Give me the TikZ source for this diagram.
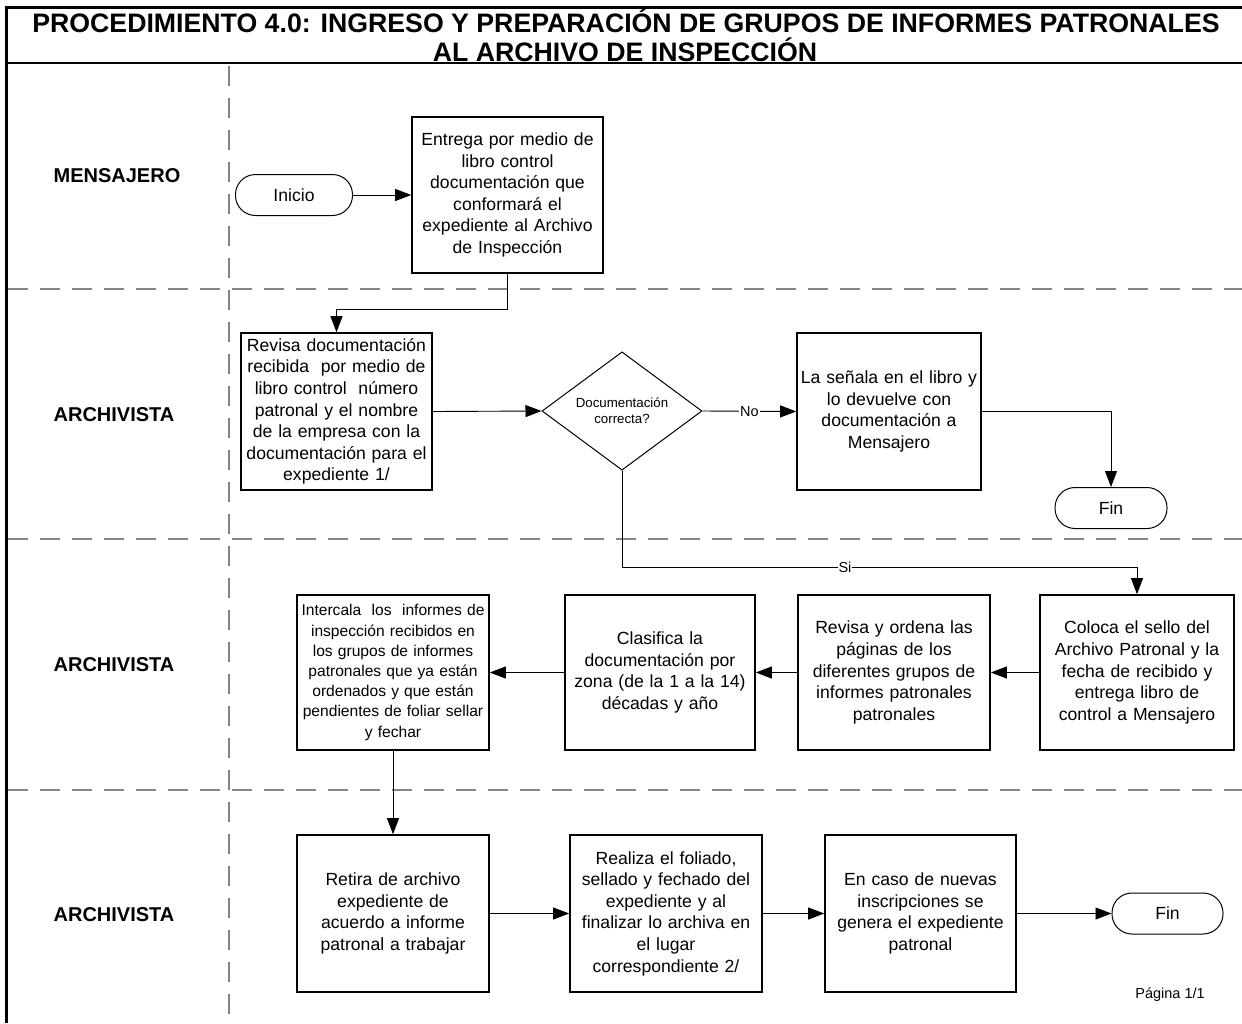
\documentclass[tikz,border=0pt]{standalone}
\usepackage{fontspec}
\setmainfont{Liberation Sans}
\usetikzlibrary{arrows.meta,shapes.geometric,calc}
\begin{document}
\begin{tikzpicture}[x=1pt,y=-1pt,
  every node/.style={font=\fontsize{17.6}{21.6}\selectfont},
  proc/.style={draw, line width=1.6pt, align=center, inner sep=0pt, rectangle},
  term/.style={draw, line width=1pt, rectangle, rounded corners=20pt, minimum width=#1, minimum height=41pt, inner sep=0pt},
  dec/.style={draw, diamond, line width=1pt, inner sep=0pt, align=center, minimum width=160pt, minimum height=94pt, font=\fontsize{13.3}{16}\selectfont},
  arr/.style={-{Triangle[length=16pt,width=12pt]}, line width=0.9pt},
  lane/.style={draw=black!48, line width=2.6pt, dash pattern=on 20pt off 12pt},
  lab/.style={font=\bfseries\fontsize{20}{24}\selectfont},
  ttl/.style={font=\bfseries\fontsize{26.7}{30}\selectfont, anchor=base, inner sep=0pt},
  cond/.style={fill=white, inner sep=1pt, font=\fontsize{14.5}{16}\selectfont}
]
\useasboundingbox (0,0) rectangle (1242,1023);

% frame
\draw[line width=3pt] (4.5,7) -- (1242,7);
\draw[line width=3pt] (6,5.5) -- (6,1023);
\draw[line width=2pt] (6,63) -- (1242,63);

% title
\node[ttl] (t1) at (626,32) {PROCEDIMIENTO 4.0: INGRESO Y PREPARACIÓN DE GRUPOS DE INFORMES PATRONALES};
\node[ttl] (t2) at (625,61.5) {AL ARCHIVO DE INSPECCIÓN};

% lanes
\draw[lane] (229,66) -- (229,1023);
\draw[lane] (7.5,289) -- (1242,289);
\draw[lane] (7.5,539) -- (1242,539);
\draw[lane] (7.5,790) -- (1242,790);

\node[lab] (l1) at (117,176) {MENSAJERO};
\node[lab] (l2) at (114,415) {ARCHIVISTA};
\node[lab] (l3) at (114,665) {ARCHIVISTA};
\node[lab] (l4) at (114,915) {ARCHIVISTA};

% nodes
\node[term=117pt] (ini) at (294,195) {Inicio};
\node[proc, minimum width=191pt, minimum height=156pt, text width=187pt] (b1) at (507.5,195)
  {Entrega por medio de\\ libro control\\ documentación que\\ conformará el\\ expediente al Archivo\\ de Inspección};
\node[proc, minimum width=191pt, minimum height=157pt, text width=187pt] (b2) at (336.5,411.5)
  {Revisa documentación\\ recibida \ por medio de\\ libro control \ número\\ patronal y el nombre\\ de la empresa con la\\ documentación para el\\ expediente 1/};
\node[dec] (dia) at (622,411) {Documentación\\ correcta?};
\node[proc, minimum width=184pt, minimum height=157pt, text width=180pt] (b3) at (889,411.5)
  {La señala en el libro y\\ lo devuelve con\\ documentación a\\ Mensajero};
\node[term=112pt] (fin1) at (1111,508) {Fin};

\node[proc, minimum width=194pt, minimum height=155pt, text width=190pt] (b4) at (1137,672.5)
  {Coloca el sello del\\ Archivo Patronal y la\\ fecha de recibido y\\ entrega libro de\\ control a Mensajero};
\node[proc, minimum width=192pt, minimum height=155pt, text width=188pt] (b5) at (894,672.5)
  {Revisa y ordena las\\ páginas de los\\ diferentes grupos de\\ informes patronales\\ patronales};
\node[proc, minimum width=190pt, minimum height=155pt, text width=186pt] (b6) at (660,672.5)
  {Clasifica la\\ documentación por\\ zona (de la 1 a la 14)\\ décadas y año};
\node[proc, minimum width=192pt, minimum height=155pt, text width=188pt, font=\fontsize{15.6}{20.2}\selectfont] (b7) at (393,672.5)
  {Intercala \ los \ informes de\\ inspección recibidos en\\ los grupos de informes\\ patronales que ya están\\ ordenados y que están\\ pendientes de foliar sellar\\ y fechar};

\node[proc, minimum width=192pt, minimum height=157pt, text width=188pt] (b8) at (393,913.5)
  {Retira de archivo\\ expediente de\\ acuerdo a informe\\ patronal a trabajar};
\node[proc, minimum width=192pt, minimum height=157pt, text width=188pt] (b9) at (666,913.5)
  {Realiza el foliado,\\ sellado y fechado del\\ expediente y al\\ finalizar lo archiva en\\ el lugar\\ correspondiente 2/};
\node[proc, minimum width=191pt, minimum height=157pt, text width=187pt] (b10) at (920.5,913.5)
  {En caso de nuevas\\ inscripciones se\\ genera el expediente\\ patronal};
\node[term=111pt] (fin2) at (1167.5,913.5) {Fin};

\node[font=\fontsize{14.5}{16}\selectfont] (pg) at (1170,995) {Página 1/1};

% connectors
\draw[arr] (ini.east) -- (b1.west);
\draw[arr] (b1.south) -- ++(0,36) -| (b2.north);
\draw[arr] (b2.east) -- (dia.west);
\draw[arr] (dia.east) -- node[cond] {No} (b3.west);
\draw[arr] (b3.east) -| (fin1.north);
\draw[arr] (dia.south) -- ++(0,97) -| node[cond, pos=0.2165] {Si} (b4.north);
\draw[arr] (b4.west) -- (b5.east);
\draw[arr] (b5.west) -- (b6.east);
\draw[arr] (b6.west) -- (b7.east);
\draw[arr] (b7.south) -- (b8.north);
\draw[arr] (b8.east) -- (b9.west);
\draw[arr] (b9.east) -- (b10.west);
\draw[arr] (b10.east) -- (fin2.west);
\end{tikzpicture}
\end{document}
